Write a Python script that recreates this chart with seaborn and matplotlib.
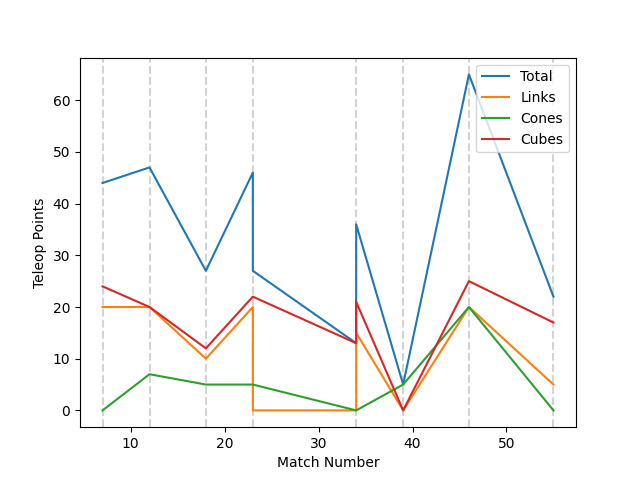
import pandas as pd
import matplotlib
matplotlib.use("Agg")
import matplotlib.pyplot as plt
import seaborn as sns

matches = [7, 12, 18, 23, 23, 34, 34, 39, 46, 55]
total = [44, 47, 27, 46, 27, 13, 36, 5, 65, 22]
links = [20, 20, 10, 20, 0, 0, 15, 0, 20, 5]
cones = [0, 7, 5, 5, 5, 0, 0, 5, 20, 0]
cubes = [24, 20, 12, 22, 22, 13, 21, 0, 25, 17]

df = pd.DataFrame({"match": matches, "Total": total, "Links": links,
                   "Cones": cones, "Cubes": cubes})

fig, ax = plt.subplots(figsize=(6.4, 4.8), dpi=100)
for m in sorted(set(matches)):
    ax.axvline(m, color="lightgray", linestyle="--", zorder=0)

for col in ["Total", "Links", "Cones", "Cubes"]:
    sns.lineplot(data=df, x="match", y=col, estimator=None, sort=False,
                 label=col, ax=ax)

ax.set_xlabel("Match Number")
ax.set_ylabel("Teleop Points")
ax.legend(loc="upper right")
fig.savefig("out.png")
